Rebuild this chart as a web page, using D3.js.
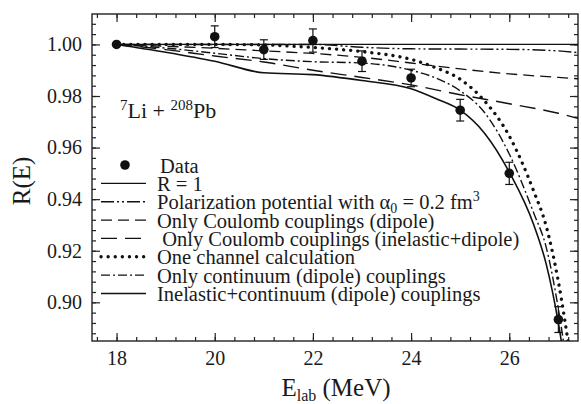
<!DOCTYPE html>
<html>
<head>
<meta charset="utf-8">
<script src="https://cdn.jsdelivr.net/npm/d3@7"></script>
<style>
  body { margin: 0; background: #fff; }
  text { font-family: "Liberation Serif", "Times New Roman", serif; fill: #1a1a1a; }
</style>
</head>
<body>
<div id="chart"></div>
<script>
// measured data points
const dataE = [18, 20, 21, 22, 23, 24, 25, 26, 27];
const dataR = [1.000, 1.003, 0.998, 1.0015, 0.9935, 0.987, 0.9745, 0.950, 0.8933];
const dataErr = [0, 0.0042, 0.0038, 0.0045, 0.0040, 0.0034, 0.0042, 0.0043, 0.005];

// calculations
const flatE = [18, 19, 20, 21, 22, 23, 24, 25, 26, 27, 27.4];
const unityR = [1, 1, 1, 1, 1, 1, 1, 1, 1, 1, 1];
const polarR = [1, 1, 1, 1, 1, 0.9989, 0.9983, 0.9982, 0.9981, 0.9975, 0.9968];
const coulDipR = [1, 0.9993, 0.9985, 0.9975, 0.9965, 0.995, 0.9928, 0.9905, 0.9886, 0.9872, 0.9867];
const coulInelR = [1, 0.998, 0.9955, 0.9932, 0.990, 0.9872, 0.9843, 0.9805, 0.977, 0.9733, 0.9713];

const steepE = [18, 19, 20, 21, 22, 23, 24, 24.5, 25, 25.5, 26, 26.5, 26.75, 27, 27.25];
const oneChanR = [1, 1, 1, 0.9998, 0.9988, 0.9972, 0.9942, 0.991, 0.9865, 0.978, 0.9645, 0.943, 0.9297, 0.908, 0.878];
const contR = [1, 0.9986, 0.9966, 0.9945, 0.9933, 0.9928, 0.990, 0.987, 0.982, 0.9735, 0.9575, 0.9345, 0.9215, 0.8975, 0.865];
const inelContR = [1, 0.997, 0.9935, 0.989, 0.9883, 0.986, 0.9828, 0.979, 0.9745, 0.9655, 0.9505, 0.930, 0.915, 0.892, 0.86];

const xMajor = [18, 20, 22, 24, 26];
const yMajor = [0.90, 0.92, 0.94, 0.96, 0.98, 1.00];

const W = 581, H = 404;
const m = { left: 92, right: 3, top: 14, bottom: 63 };
const iw = W - m.left - m.right, ih = H - m.top - m.bottom;

const x = d3.scaleLinear().domain([17.5, 27.4]).range([0, iw]);
const y = d3.scaleLinear().domain([0.885, 1.0118]).range([ih, 0]);

const xMinor = d3.range(17.6, 27.4, 0.4);
const yMinor = d3.range(0.888, 1.0118, 0.004);

const svg = d3.select("#chart").append("svg")
    .attr("width", W).attr("height", H);
svg.append("defs").append("clipPath").attr("id", "clip")
    .append("rect").attr("width", iw).attr("height", ih);

const g = svg.append("g").attr("transform", `translate(${m.left},${m.top})`);

// inward ticks on all four sides
const axes = [
    [() => d3.axisBottom(x), `translate(0,${ih})`, xMajor, xMinor, d3.format("d")],
    [() => d3.axisTop(x), "translate(0,0)", xMajor, xMinor, null],
    [() => d3.axisLeft(y), "translate(0,0)", yMajor, yMinor, d3.format(".2f")],
    [() => d3.axisRight(y), `translate(${iw},0)`, yMajor, yMinor, null]
];
axes.forEach(([mk, tr, maj, mnr, fmt]) => {
    const a1 = g.append("g").attr("transform", tr)
        .call(mk().tickValues(mnr).tickSize(-4).tickFormat(() => ""));
    const a2 = g.append("g").attr("transform", tr)
        .call(mk().tickValues(maj).tickSize(-8).tickPadding(10).tickFormat(fmt || (() => "")));
    [a1, a2].forEach(a => {
        a.select(".domain").remove();
        a.selectAll("line").attr("stroke", "#222").attr("stroke-width", 1.2);
        a.selectAll("text").attr("font-size", 20).attr("font-family", "Liberation Serif").attr("fill", "#1a1a1a");
    });
});

g.append("rect").attr("width", iw).attr("height", ih)
    .attr("fill", "none").attr("stroke", "#222").attr("stroke-width", 1.4);

// curve styles
const series = [
    { E: flatE, R: unityR, dash: null, w: 1.3, label: "R = 1" },
    { E: flatE, R: polarR, dash: "13,3,2,3,2,3", w: 1.4, label: "pol" },
    { E: flatE, R: coulDipR, dash: "11,6", w: 1.3, label: "Only Coulomb couplings (dipole)" },
    { E: flatE, R: coulInelR, dash: "16,8", w: 1.4, label: " Only Coulomb couplings (inelastic+dipole)" },
    { E: steepE, R: oneChanR, dash: "0.1,7", w: 3.3, cap: "round", label: "One channel calculation" },
    { E: steepE, R: contR, dash: "9,3,2,3", w: 1.4, label: "Only continuum (dipole) couplings" },
    { E: steepE, R: inelContR, dash: null, w: 1.6, label: "Inelastic+continuum (dipole) couplings" }
];

const line = d3.line().x(d => x(d[0])).y(d => y(d[1])).curve(d3.curveMonotoneX);
const curves = g.append("g").attr("clip-path", "url(#clip)");
series.forEach(s => {
    curves.append("path")
        .datum(s.E.map((e, i) => [e, s.R[i]]))
        .attr("d", line)
        .attr("fill", "none")
        .attr("stroke", "#111")
        .attr("stroke-width", s.w)
        .attr("stroke-linecap", s.cap || "butt")
        .attr("stroke-dasharray", s.dash);
});

// data with error bars
const pts = dataE.map((e, i) => ({ e, r: dataR[i], err: dataErr[i] }));
const eb = g.append("g").attr("clip-path", "url(#clip)");
pts.filter(d => d.err > 0).forEach(d => {
    const px = x(d.e), y1 = y(d.r + d.err), y2 = y(d.r - d.err);
    eb.append("line").attr("x1", px).attr("x2", px).attr("y1", y1).attr("y2", y2)
        .attr("stroke", "#111").attr("stroke-width", 1.2);
    [y1, y2].forEach(yy => eb.append("line")
        .attr("x1", px - 4).attr("x2", px + 4).attr("y1", yy).attr("y2", yy)
        .attr("stroke", "#111").attr("stroke-width", 1.2));
});
g.selectAll(".dot").data(pts).enter().append("circle")
    .attr("cx", d => x(d.e)).attr("cy", d => y(d.r)).attr("r", 4.8).attr("fill", "#111");

// reaction label
const lab = g.append("text").attr("x", 120 - m.left).attr("y", 118 - m.top).attr("font-size", 22);
lab.append("tspan").attr("font-size", 15).attr("dy", -8).text("7");
lab.append("tspan").attr("dy", 8).text("Li + ");
lab.append("tspan").attr("font-size", 15).attr("dy", -8).text("208");
lab.append("tspan").attr("dy", 8).text("Pb");

// legend
const leg = svg.append("g");
const rowY = i => 165 + i * 18.35;
leg.append("circle").attr("cx", 125).attr("cy", rowY(0)).attr("r", 4.8).attr("fill", "#111");
leg.append("text").attr("x", 160).attr("y", rowY(0) + 8).attr("font-size", 20.5).text("Data");
series.forEach((s, i) => {
    const yy = rowY(i + 1);
    leg.append("line").attr("x1", 101).attr("x2", 146).attr("y1", yy).attr("y2", yy)
        .attr("stroke", "#111").attr("stroke-width", s.w)
        .attr("stroke-linecap", s.cap || "butt")
        .attr("stroke-dasharray", s.dash);
    const t = leg.append("text").attr("x", 157).attr("y", yy + 7.5).attr("font-size", 20.5)
        .attr("xml:space", "preserve");
    if (s.label === "pol") {
        t.append("tspan").text("Polarization potential with α");
        t.append("tspan").attr("font-size", 14).attr("dy", 4).text("0");
        t.append("tspan").attr("dy", -4).text(" = 0.2 fm");
        t.append("tspan").attr("font-size", 14).attr("dy", -8).text("3");
    } else {
        t.text(s.label);
    }
});

// axis titles
svg.append("text").attr("transform", "translate(30,181) rotate(-90)")
    .attr("text-anchor", "middle").attr("font-size", 25).text("R(E)");
const xt = svg.append("text").attr("x", 336).attr("y", 396)
    .attr("text-anchor", "middle").attr("font-size", 25);
xt.append("tspan").text("E");
xt.append("tspan").attr("font-size", 16).attr("dy", 5).text("lab");
xt.append("tspan").attr("dy", -5).text(" (MeV)");
</script>
</body>
</html>
